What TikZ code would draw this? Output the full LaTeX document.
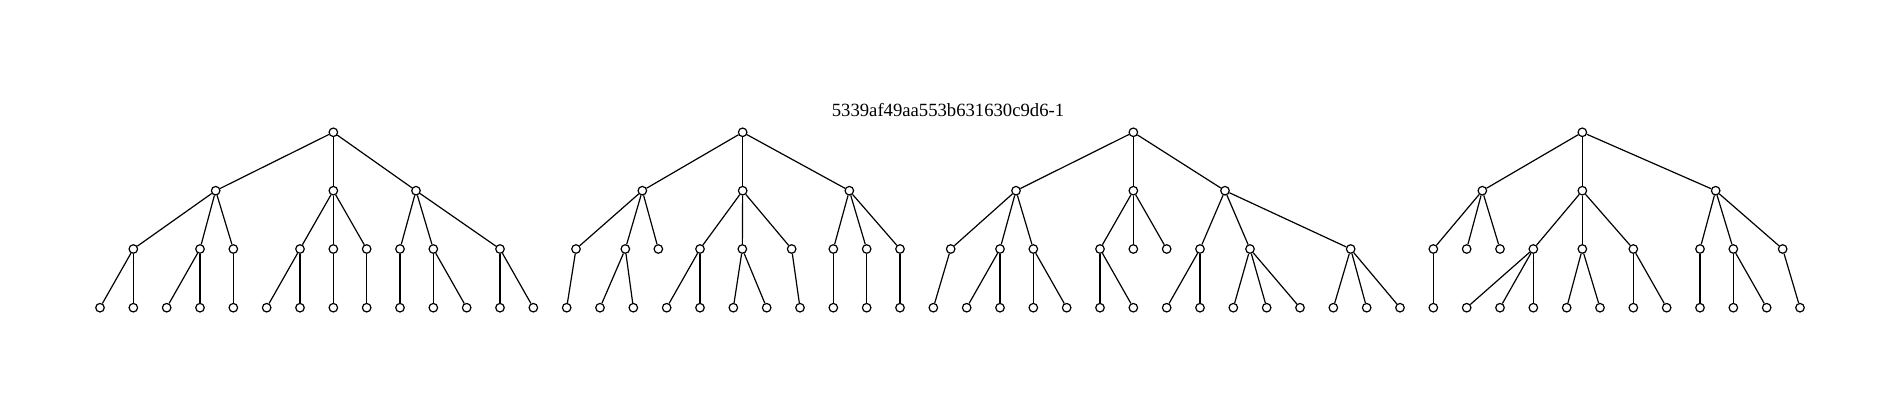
\documentclass[tikz,border=0pt]{standalone}
\usepackage{fontspec}
\setmainfont{Liberation Serif}
\begin{document}
\begin{tikzpicture}[x=25pt,y=-0.75pt,
  vtx/.style={circle,draw,fill=white,inner sep=0pt,minimum size=6.4pt,line width=0.9pt},
  edge/.style={line width=0.9pt}]
\useasboundingbox (-3,0) rectangle (54,409);
% title
\node[anchor=base,inner sep=0pt,font=\fontsize{14}{16}\selectfont] (title) at (25.44,116.7) {5339af49aa553b631630c9d6-1};
% roots
\foreach \n/\x in {r1/7, r2/19.28, r3/31, r4/44.47}
  \node[vtx] (\n) at (\x,132.3) {};
% level 1
\foreach \n/\x in {A/3.47, B/7, C/9.48, D/16.27, E/19.28, F/22.48, G/27.48, H/31, I/33.75, J/41.47, K/44.47, L/48.47}
  \node[vtx] (\n) at (\x,190.7) {};
% level 2
\foreach \n/\x in {a1/1, a2/3, a3/4, b1/6, b2/7, b3/8, c1/9, c2/10, c3/12,
                   d1/14.28, d2/15.76, d3/16.75, e1/18, e2/19.27, e3/20.75, f1/22, f2/23, f3/24,
                   g1/25.52, g2/27, g3/28, h1/30, h2/31, h3/32, i1/33, i2/34.5, i3/37.52,
                   j1/40, j2/41, j3/42, k1/43, k2/44.47, k3/46, l1/48, l2/49, l3/50.48}
  \node[vtx] (\n) at (\x,249) {};
% leaves
\foreach \k in {0,...,51}
  \node[vtx] (v\k) at (\k,307.7) {};
% edges
\foreach \p/\c in {r1/A, r1/B, r1/C, r2/D, r2/E, r2/F, r3/G, r3/H, r3/I, r4/J, r4/K, r4/L,
                   A/a1, A/a2, A/a3, B/b1, B/b2, B/b3, C/c1, C/c2, C/c3,
                   D/d1, D/d2, D/d3, E/e1, E/e2, E/e3, F/f1, F/f2, F/f3,
                   G/g1, G/g2, G/g3, H/h1, H/h2, H/h3, I/i1, I/i2, I/i3,
                   J/j1, J/j2, J/j3, K/k1, K/k2, K/k3, L/l1, L/l2, L/l3,
                   a1/v0, a1/v1, a2/v2, a2/v3, a3/v4, b1/v5, b1/v6, b2/v7, b3/v8,
                   c1/v9, c2/v10, c2/v11, c3/v12, c3/v13,
                   d1/v14, d2/v15, d2/v16, e1/v17, e1/v18, e2/v19, e2/v20, e3/v21,
                   f1/v22, f2/v23, f3/v24,
                   g1/v25, g2/v26, g2/v27, g3/v28, g3/v29, h1/v30, h1/v31,
                   i1/v32, i1/v33, i2/v34, i2/v35, i2/v36, i3/v37, i3/v38, i3/v39,
                   j1/v40, k1/v41, k1/v42, k1/v43, k2/v44, k2/v45, k3/v46, k3/v47,
                   l1/v48, l2/v49, l2/v50, l3/v51}
  \draw[edge] (\p) -- (\c);
\end{tikzpicture}
\end{document}
